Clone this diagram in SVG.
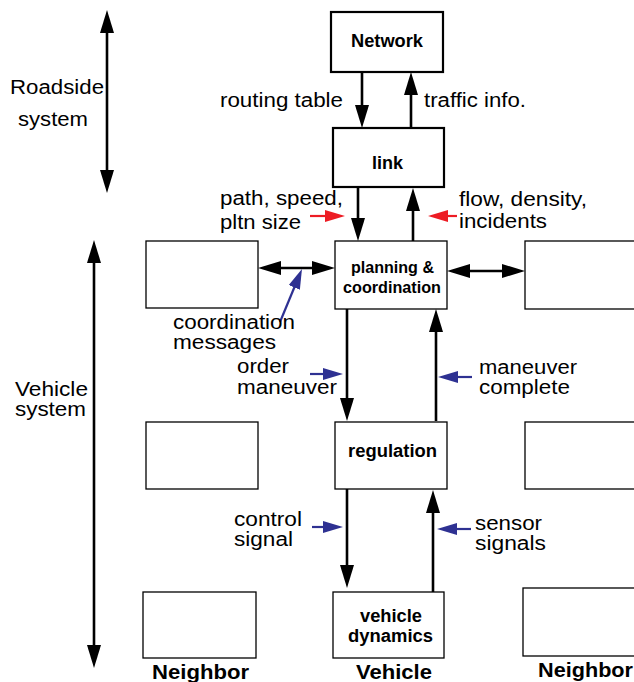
<svg xmlns="http://www.w3.org/2000/svg" width="634" height="682" viewBox="0 0 634 682">
<style>
.box{fill:#fff;stroke:#000;stroke-width:1.3}
.box2{fill:#fff;stroke:#000;stroke-width:2.2}
.t{font-family:"Liberation Sans",Arial,Helvetica,sans-serif;font-size:19.5px;fill:#000}
.b{font-family:"Liberation Sans",Arial,Helvetica,sans-serif;font-size:17.5px;font-weight:bold;fill:#000}
.bb{font-family:"Liberation Sans",Arial,Helvetica,sans-serif;font-size:20px;font-weight:bold;fill:#000}
.ar{stroke:#000;stroke-width:2.6;fill:none}
.blue{stroke:#2e3192;stroke-width:2.2;fill:none}
.red{stroke:#ed1c24;stroke-width:2.2;fill:none}
</style>
<defs>
<marker id="ah" markerUnits="userSpaceOnUse" markerWidth="24" markerHeight="14" refX="1" refY="7" orient="auto-start-reverse" viewBox="0 0 24 14"><path d="M0,0 L23,7 L0,14 Z" fill="#000"/></marker>
<marker id="ahb" markerUnits="userSpaceOnUse" markerWidth="21" markerHeight="12" refX="1" refY="6" orient="auto" viewBox="0 0 21 12"><path d="M0,0 L20,6 L0,12 Z" fill="#2e3192"/></marker>
<marker id="ahr" markerUnits="userSpaceOnUse" markerWidth="21" markerHeight="12" refX="1" refY="6" orient="auto" viewBox="0 0 21 12"><path d="M0,0 L20,6 L0,12 Z" fill="#ed1c24"/></marker>
</defs>

<g id="network"><rect class="box2" x="331" y="12" width="112" height="60"/><text class="b" x="351" y="47" textLength="72" lengthAdjust="spacingAndGlyphs">Network</text></g>
<g id="link"><rect class="box2" x="333" y="128" width="111" height="59"/><text class="b" x="372" y="169" textLength="31" lengthAdjust="spacingAndGlyphs">link</text></g>
<g id="planning"><rect class="box" x="335" y="241" width="112" height="68"/><text class="b" x="351" y="273" style="font-size:16px" textLength="83" lengthAdjust="spacingAndGlyphs">planning &amp;</text><text class="b" x="343" y="293" style="font-size:16px" textLength="98" lengthAdjust="spacingAndGlyphs">coordination</text></g>
<g id="regulation"><rect class="box" x="335" y="422" width="112" height="67"/><text class="b" x="348" y="457" textLength="89" lengthAdjust="spacingAndGlyphs">regulation</text></g>
<g id="vehicle-dynamics"><rect class="box" x="333" y="592" width="111" height="66"/><text class="b" x="360" y="622" textLength="62" lengthAdjust="spacingAndGlyphs">vehicle</text><text class="b" x="348" y="642" textLength="85" lengthAdjust="spacingAndGlyphs">dynamics</text></g>
<g id="neighbor-left-top"><rect class="box" x="146" y="241" width="112" height="67"/></g>
<g id="neighbor-left-mid"><rect class="box" x="146" y="422" width="112" height="67"/></g>
<g id="neighbor-left-bottom"><rect class="box" x="143" y="592" width="113" height="66"/></g>
<g id="neighbor-right-top"><rect class="box" x="525" y="241" width="120" height="68"/></g>
<g id="neighbor-right-mid"><rect class="box" x="525" y="422" width="120" height="67"/></g>
<g id="neighbor-right-bottom"><rect class="box" x="523" y="588" width="120" height="68"/></g>

<g id="connectors">
<line class="ar" x1="107" y1="32" x2="107" y2="171" marker-start="url(#ah)" marker-end="url(#ah)"/>
<line class="ar" x1="94" y1="262" x2="94" y2="646" marker-start="url(#ah)" marker-end="url(#ah)"/>
<line class="ar" x1="362" y1="72" x2="362" y2="106" marker-end="url(#ah)"/>
<line class="ar" x1="411" y1="128" x2="411" y2="94" marker-end="url(#ah)"/>
<line class="ar" x1="358" y1="188" x2="358" y2="219" marker-end="url(#ah)"/>
<line class="ar" x1="413" y1="241" x2="413" y2="210" marker-end="url(#ah)"/>
<line class="ar" x1="280" y1="268" x2="313" y2="268" marker-start="url(#ah)" marker-end="url(#ah)"/>
<line class="ar" x1="469" y1="271" x2="503" y2="271" marker-start="url(#ah)" marker-end="url(#ah)"/>
<line class="ar" x1="347" y1="309" x2="347" y2="399" marker-end="url(#ah)"/>
<line class="ar" x1="436" y1="421" x2="436" y2="331" marker-end="url(#ah)"/>
<line class="ar" x1="347" y1="489" x2="347" y2="566" marker-end="url(#ah)"/>
<line class="ar" x1="433" y1="592" x2="433" y2="512" marker-end="url(#ah)"/>
<line class="red" x1="310" y1="216" x2="326" y2="216" marker-end="url(#ahr)"/>
<line class="red" x1="457" y1="216" x2="447" y2="216" marker-end="url(#ahr)"/>
<line class="blue" x1="280" y1="322" x2="294.7" y2="286.5" marker-end="url(#ahb)"/>
<line class="blue" x1="310" y1="374" x2="324" y2="374" marker-end="url(#ahb)"/>
<line class="blue" x1="472" y1="377" x2="457" y2="377" marker-end="url(#ahb)"/>
<line class="blue" x1="312" y1="527" x2="324" y2="527" marker-end="url(#ahb)"/>
<line class="blue" x1="471" y1="529" x2="456" y2="529" marker-end="url(#ahb)"/>
</g>

<g id="labels">
<text class="t" x="10" y="94" textLength="94" lengthAdjust="spacingAndGlyphs">Roadside</text>
<text class="t" x="18" y="126" textLength="70" lengthAdjust="spacingAndGlyphs">system</text>
<text class="t" x="15" y="396" textLength="73" lengthAdjust="spacingAndGlyphs">Vehicle</text>
<text class="t" x="15" y="416" textLength="71" lengthAdjust="spacingAndGlyphs">system</text>
<text class="t" x="220" y="107" textLength="123" lengthAdjust="spacingAndGlyphs">routing table</text>
<text class="t" x="424" y="107" textLength="102" lengthAdjust="spacingAndGlyphs">traffic info.</text>
<text class="t" x="220" y="205" textLength="123" lengthAdjust="spacingAndGlyphs">path, speed,</text>
<text class="t" x="220" y="229" textLength="81" lengthAdjust="spacingAndGlyphs">pltn size</text>
<text class="t" x="459" y="206" textLength="128" lengthAdjust="spacingAndGlyphs">flow, density,</text>
<text class="t" x="459" y="228" textLength="88" lengthAdjust="spacingAndGlyphs">incidents</text>
<text class="t" x="173" y="329" textLength="122" lengthAdjust="spacingAndGlyphs">coordination</text>
<text class="t" x="173" y="349" textLength="103" lengthAdjust="spacingAndGlyphs">messages</text>
<text class="t" x="237" y="373" textLength="52" lengthAdjust="spacingAndGlyphs">order</text>
<text class="t" x="237" y="394" textLength="100" lengthAdjust="spacingAndGlyphs">maneuver</text>
<text class="t" x="479" y="374" textLength="98" lengthAdjust="spacingAndGlyphs">maneuver</text>
<text class="t" x="479" y="394" textLength="91" lengthAdjust="spacingAndGlyphs">complete</text>
<text class="t" x="234" y="526" textLength="68" lengthAdjust="spacingAndGlyphs">control</text>
<text class="t" x="234" y="546" textLength="59" lengthAdjust="spacingAndGlyphs">signal</text>
<text class="t" x="475" y="530" textLength="67" lengthAdjust="spacingAndGlyphs">sensor</text>
<text class="t" x="475" y="550" textLength="71" lengthAdjust="spacingAndGlyphs">signals</text>
<text class="bb" x="152" y="679" textLength="97" lengthAdjust="spacingAndGlyphs">Neighbor</text>
<text class="bb" x="356" y="679" textLength="76" lengthAdjust="spacingAndGlyphs">Vehicle</text>
<text class="bb" x="538" y="677" textLength="95" lengthAdjust="spacingAndGlyphs">Neighbor</text>
</g>
</svg>
